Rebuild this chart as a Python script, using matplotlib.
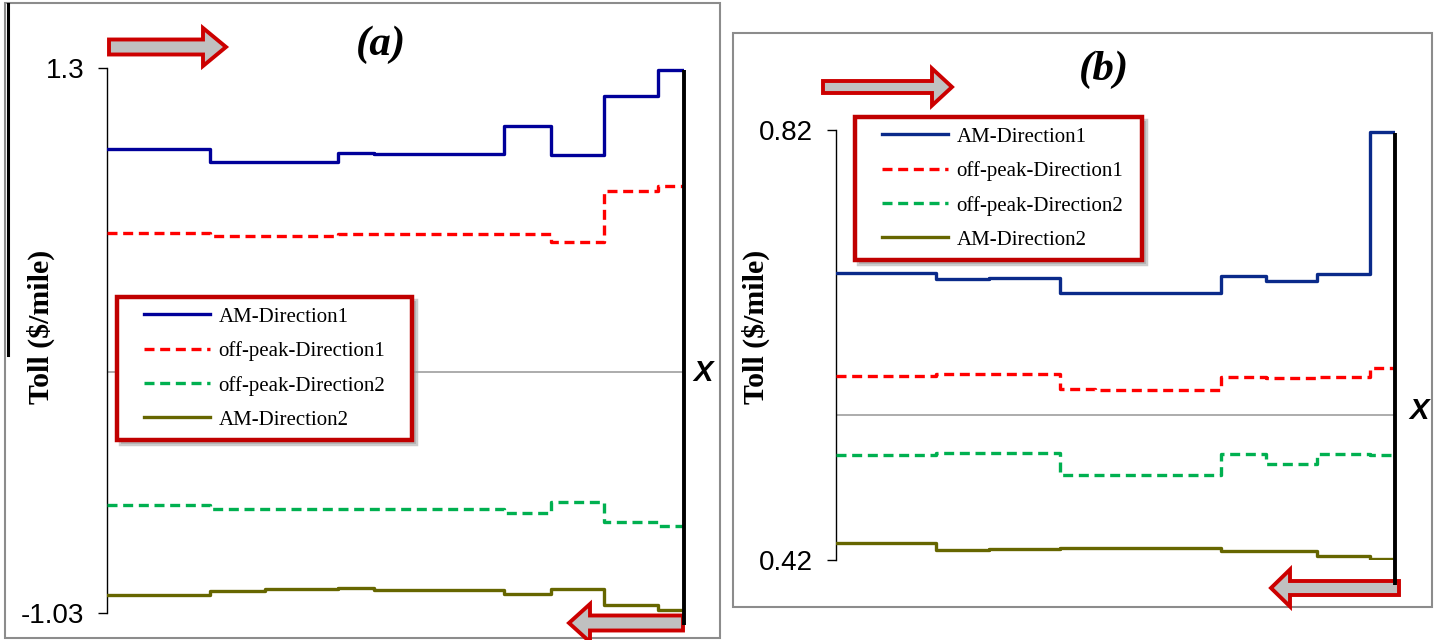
import numpy as np
import matplotlib.pyplot as plt
from matplotlib.patches import FancyArrow, Rectangle
from matplotlib.lines import Line2D
from matplotlib.legend_handler import HandlerLine2D
from matplotlib.font_manager import FontProperties

#%% data
# segment edges along the corridor (same segmentation in both panels)
edges = [0, 1.03, 1.58, 2.31, 2.67, 3.97, 4.44, 4.97, 5.51, 5.77]

labels = ['AM-Direction1', 'off-peak-Direction1', 'off-peak-Direction2', 'AM-Direction2']

# panel (a)
am_d1_a = [0.954, 0.898, 0.900, 0.937, 0.931, 1.052, 0.928, 1.180, 1.291]
off_d1_a = [0.595, 0.582, 0.582, 0.590, 0.590, 0.590, 0.556, 0.774, 0.796]
off_d2_a = [-0.568, -0.587, -0.587, -0.587, -0.587, -0.601, -0.557, -0.642, -0.659]
am_d2_a = [-0.953, -0.936, -0.929, -0.924, -0.932, -0.949, -0.927, -0.996, -1.017]
yticks_a = [-1.03, 1.3]
ytick_labels_a = ['-1.03', '1.3']
mid_a = 0.0

# panel (b)
am_d1_b = [0.687, 0.681, 0.682, 0.668, 0.668, 0.684, 0.680, 0.686, 0.818]
off_d1_b = [0.591, 0.593, 0.593, 0.579, 0.578, 0.590, 0.589, 0.590, 0.599]
off_d2_b = [0.518, 0.520, 0.520, 0.499, 0.499, 0.519, 0.509, 0.519, 0.518]
am_d2_b = [0.436, 0.429, 0.430, 0.431, 0.431, 0.428, 0.428, 0.424, 0.421]
yticks_b = [0.42, 0.82]
ytick_labels_b = ['0.42', '0.82']
mid_b = 0.555

#%%
W, H = 1439, 640
SERIF = 'Liberation Serif'
SANS = 'Liberation Sans'

styles = [
    dict(color='#00009A', linestyle='-'),
    dict(color='#FF0000', linestyle=(0, (3.0, 1.7))),
    dict(color='#00B050', linestyle=(0, (3.0, 1.7))),
    dict(color='#666600', linestyle='-'),
]


def panel(fig, rect, series, yticks, yticklabels, mid, blue, end_span, leg_box):
    ax = fig.add_axes(rect)
    ax.patch.set_alpha(0)
    ax.axhline(mid, color='#A6A6A6', lw=1.3, zorder=1)
    for i, (vals, lab) in enumerate(zip(series, labels)):
        st = dict(styles[i])
        if i == 0:
            st['color'] = blue
        # step: value holds over each segment up to the next edge
        ax.step(edges, list(vals) + [vals[-1]], where='post', lw=2.4, label=lab,
                zorder=3, **st)
    # thick black end-of-corridor line
    ax.plot([edges[-1], edges[-1]], end_span, color='black', lw=2.8,
            solid_capstyle='butt', clip_on=False, zorder=4)
    ax.set_xlim(edges[0], edges[-1])
    ax.set_ylim(yticks[0], yticks[1])
    for s in ['top', 'right', 'bottom']:
        ax.spines[s].set_visible(False)
    ax.spines['left'].set_linewidth(1.0)
    ax.set_xticks([])
    ax.set_yticks(yticks)
    ax.set_yticklabels(yticklabels, fontfamily=SANS, fontsize=20)
    ax.tick_params(axis='y', length=6.5, width=1.0, pad=10)
    leg = ax.legend(loc='upper left', bbox_to_anchor=leg_box, mode='expand',
                    bbox_transform=fig.transFigure, borderaxespad=0,
                    prop=FontProperties(family=SERIF, size=15),
                    fancybox=False, framealpha=1, edgecolor='#C00000',
                    handlelength=4.0, handletextpad=0.4, labelspacing=0.7,
                    borderpad=0.48,
                    handler_map={Line2D: HandlerLine2D(xpad=0.8)},
                    shadow={'ox': 3, 'oy': -3, 'color': '#9A9A9A', 'alpha': 0.5})
    leg.get_frame().set_linewidth(3.2)
    return ax


def main():
    fig = plt.figure(figsize=(W / 100, H / 100), dpi=100)

    # overlay in pixel coordinates for frames, arrows and labels
    ov = fig.add_axes([0, 0, 1, 1], zorder=-1)
    ov.set_xlim(0, W)
    ov.set_ylim(H, 0)
    ov.axis('off')

    ov.add_patch(Rectangle((5, 3), 715, 635, fill=False, ec='#8C8C8C', lw=1.5))
    ov.add_patch(Rectangle((733, 33), 699, 574, fill=False, ec='#8C8C8C', lw=1.5))
    ov.plot([8, 8], [4, 355], color='black', lw=2.2)

    arrow_kw = dict(length_includes_head=True, fc='#C0C0C0', ec='#CC0000', lw=2.8)
    ov.add_patch(FancyArrow(109, 47, 117, 0, width=15, head_width=38, head_length=23, **arrow_kw))
    ov.add_patch(FancyArrow(683, 623, -114, 0, width=15, head_width=38, head_length=21, **arrow_kw))
    ov.add_patch(FancyArrow(823, 87, 129, 0, width=12, head_width=37, head_length=20, **arrow_kw))
    ov.add_patch(FancyArrow(1399, 588, -128, 0, width=14, head_width=37, head_length=19, **arrow_kw))

    ov.text(381, 45, '(a)', fontfamily=SERIF, fontsize=31, fontweight='bold',
            fontstyle='italic', ha='center', va='center')
    ov.text(1104, 70, '(b)', fontfamily=SERIF, fontsize=31, fontweight='bold',
            fontstyle='italic', ha='center', va='center')
    for x, y in [(41, 327), (756, 327)]:
        ov.text(x, y, 'Toll ($/mile)', fontfamily=SERIF, fontsize=21.5, fontweight='bold',
                rotation=90, ha='center', va='center')
    ov.text(703, 373, 'X', fontfamily=SANS, fontsize=21, fontweight='bold',
            fontstyle='italic', ha='center', va='center')
    ov.text(1419, 411, 'X', fontfamily=SANS, fontsize=21, fontweight='bold',
            fontstyle='italic', ha='center', va='center')

    panel(fig, [107 / W, 1 - 613 / H, 577 / W, 545 / H],
          [am_d1_a, off_d1_a, off_d2_a, am_d2_a], yticks_a, ytick_labels_a, mid_a,
          '#00009A', [1.29, -1.081], (117 / W, 1 - 297 / H, 295 / W, 0))
    panel(fig, [836 / W, 1 - 560 / H, 559 / W, 430 / H],
          [am_d1_b, off_d1_b, off_d2_b, am_d2_b], yticks_b, ytick_labels_b, mid_b,
          '#0A2A8A', [0.817, 0.397], (855 / W, 1 - 117 / H, 287 / W, 0))

    fig.savefig('out.png', dpi=100, facecolor='white')


if __name__ == '__main__':
    main()
